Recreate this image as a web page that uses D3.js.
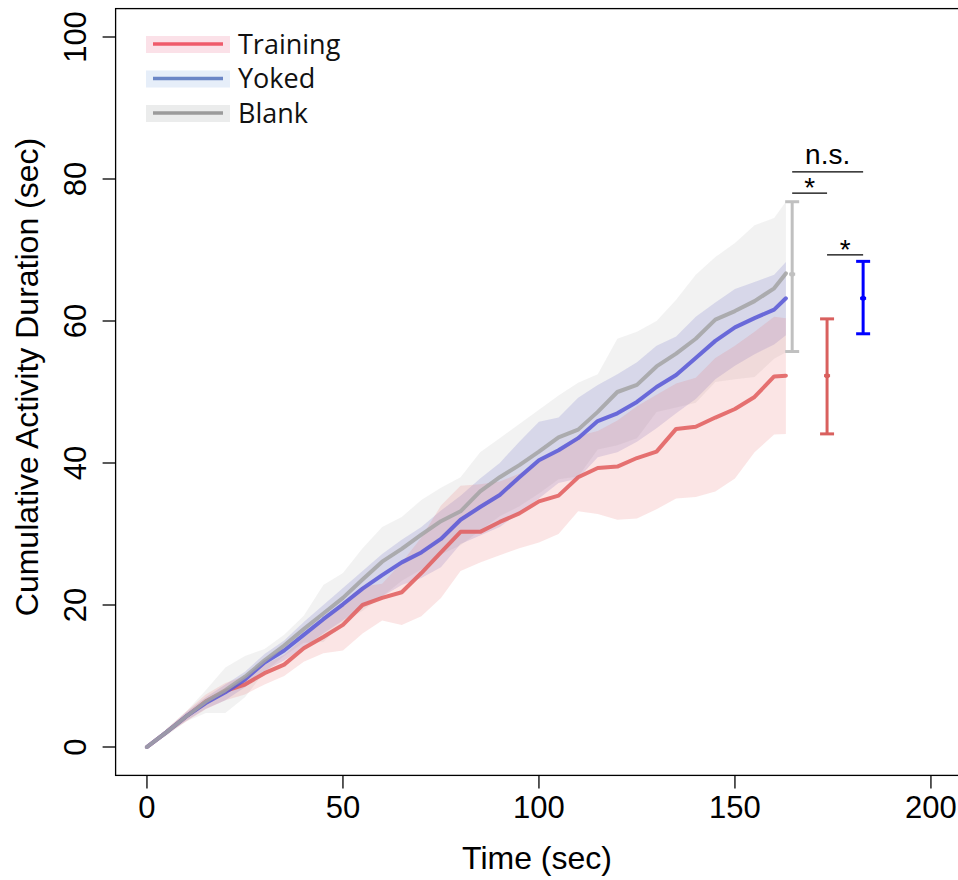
<!DOCTYPE html>
<html>
<head>
  <meta charset="UTF-8">
  <style>
    body {
      margin: 0;
      background-color: #ffffff;
    }
    svg {
      display: block;
    }
    .tick-label, .axis-title {
      font-family: "Liberation Sans", Arial, sans-serif;
      fill: #000;
    }
    .legend-text {
      font-family: "Open Sans", "Noto Sans", sans-serif;
      fill: #111;
    }
  </style>
</head>
<body>

<svg id="chart"></svg>

<script src="https://d3js.org/d3.v7.min.js"></script>

<script>
// time points (sec)
const time = [0, 5, 10, 15, 20, 25, 30, 35, 40, 45, 50, 55, 60, 65, 70, 75, 80, 85, 90, 95, 100,
  105, 110, 115, 120, 125, 130, 135, 140, 145, 150, 155, 160, 163];

// Training (mean, lower, upper of the shaded band)
const trainMean = [0, 2.1, 4.3, 6.4, 7.9, 8.8, 10.4, 11.6, 13.9, 15.5, 17.2, 20.0, 21.0, 21.8, 24.5, 27.4, 30.3, 30.3, 31.7, 32.9, 34.6,
  35.4, 38.0, 39.3, 39.5, 40.7, 41.6, 44.8, 45.1, 46.4, 47.6, 49.3, 52.2, 52.3];
const trainLo = [0, 1.8, 3.6, 5.3, 6.6, 7.4, 8.8, 10.0, 12.0, 13.2, 13.6, 16.0, 17.8, 17.2, 18.4, 21.0, 24.8, 26.0, 27.0, 28.0, 28.8,
  30.0, 33.2, 32.8, 32.0, 32.2, 33.5, 35.0, 35.2, 36.0, 37.8, 41.5, 44.0, 44.1];
const trainHi = [0, 2.5, 5.0, 7.4, 9.0, 10.0, 11.6, 13.0, 15.4, 17.8, 20.4, 22.6, 23.0, 26.0, 29.5, 34.0, 36.8, 37.0, 37.4, 38.5, 40.2,
  41.6, 43.8, 44.5, 46.0, 48.0, 49.6, 51.2, 52.0, 54.8, 56.5, 58.5, 60.6, 60.4];

// Yoked
const yokedMean = [0, 2.1, 4.3, 6.2, 7.7, 9.5, 11.9, 13.6, 15.8, 18.0, 20.1, 22.3, 24.2, 26.0, 27.4, 29.3, 32.0, 33.8, 35.5, 38.0, 40.4,
  41.8, 43.5, 45.9, 47.0, 48.6, 50.7, 52.4, 54.8, 57.2, 59.1, 60.4, 61.6, 63.2];
const yokedLo = [0, 1.8, 3.7, 5.4, 6.6, 8.4, 10.7, 12.2, 14.0, 16.0, 17.8, 19.8, 21.2, 22.8, 23.8, 25.3, 28.6, 29.8, 31.0, 33.0, 35.0,
  37.2, 37.8, 40.8, 41.5, 43.0, 44.9, 47.0, 49.0, 51.8, 53.7, 55.3, 56.7, 58.0];
const yokedHi = [0, 2.4, 4.9, 7.0, 8.8, 10.6, 13.1, 15.0, 17.6, 20.0, 22.4, 24.8, 27.2, 29.2, 31.0, 33.3, 35.4, 37.8, 40.0, 43.0, 45.8,
  46.4, 49.2, 51.0, 52.5, 54.2, 56.5, 57.8, 60.6, 62.6, 64.5, 65.5, 66.5, 68.3];

// Blank
const blankMean = [0, 2.1, 4.3, 6.4, 8.0, 9.9, 12.2, 14.3, 16.6, 18.8, 21.0, 23.6, 26.1, 27.9, 29.9, 31.8, 33.2, 36.0, 38.0, 39.7, 41.6,
  43.6, 44.7, 47.2, 50.0, 51.0, 53.6, 55.4, 57.5, 60.2, 61.4, 62.8, 64.6, 66.7];
const blankLo = [0, 1.6, 3.6, 4.8, 4.8, 7.0, 10.6, 12.8, 14.7, 14.8, 17.5, 19.2, 21.2, 23.4, 25.0, 27.1, 28.4, 30.5, 32.5, 33.9, 35.7,
  37.7, 38.1, 41.9, 42.5, 43.5, 47.2, 47.8, 48.5, 51.4, 51.8, 52.1, 54.7, 55.6];
const blankHi = [0, 2.6, 5.0, 8.0, 11.2, 12.8, 13.8, 15.8, 18.5, 22.8, 24.5, 28.0, 31.0, 32.4, 34.8, 36.5, 38.0, 41.5, 43.5, 45.5, 47.5,
  49.5, 51.3, 52.5, 57.5, 58.5, 60.0, 63.0, 66.5, 69.0, 71.0, 73.5, 74.5, 76.8];

// end-point summary bars (mean +/- error), drawn to the right of the curves
const barGroups = ["Blank", "Training", "Yoked"];
const barX = [164.6, 173.5, 182.7];
const barMean = [66.6, 52.3, 63.2];
const barLo = [55.7, 44.1, 58.2];
const barHi = [76.8, 60.3, 68.4];

// significance brackets
const sigFrom = [164.6, 164.6, 173.5];
const sigTo = [182.7, 173.5, 182.7];
const sigY = [81.0, 78.0, 69.3];
const sigLabel = ["n.s.", "*", "*"];

const legendLabels = ["Training", "Yoked", "Blank"];
const xTicks = [0, 50, 100, 150, 200];
const yTicks = [0, 20, 40, 60, 80, 100];

let width = 958, height = 880;

let svg = d3.select("#chart")
    .attr("width", width)
    .attr("height", height);

let x = d3.scaleLinear().domain([-8, 208]).range([115.6, 962.3]);
let y = d3.scaleLinear().domain([-4, 104]).range([775.4, 8.6]);

let colors = {
  Training: { line: "#e05c5c", band: "rgba(232,110,110,0.18)", bar: "#d9605e", legLine: "#ef5b6b", legBox: "#fbe1e8" },
  Yoked:    { line: "#5656d6", band: "rgba(110,110,200,0.2)", bar: "#0000ff", legLine: "#6b86c6", legBox: "#e6eef9" },
  Blank:    { line: "#a3a3a3", band: "rgba(200,200,200,0.24)", bar: "#c0c0c0", legLine: "#9b9b9b", legBox: "#ebecec" }
};

let series = [
  { name: "Blank", mean: blankMean, lo: blankLo, hi: blankHi },
  { name: "Yoked", mean: yokedMean, lo: yokedLo, hi: yokedHi },
  { name: "Training", mean: trainMean, lo: trainLo, hi: trainHi }
];

// shaded bands
let area = d3.area()
    .x((d, i) => x(time[i]))
    .y0(d => y(d[0]))
    .y1(d => y(d[1]));

series.forEach(s => {
  svg.append("path")
      .datum(time.map((t, i) => [s.lo[i], s.hi[i]]))
      .attr("d", area)
      .attr("fill", colors[s.name].band)
      .attr("stroke", "none");
});

// mean lines
let line = d3.line()
    .x((d, i) => x(time[i]))
    .y(d => y(d));

["Training", "Yoked", "Blank"].forEach(name => {
  let s = series.find(e => e.name === name);
  svg.append("path")
      .datum(s.mean)
      .attr("d", line)
      .attr("fill", "none")
      .attr("stroke", colors[name].line)
      .attr("stroke-width", 4)
      .attr("stroke-linejoin", "round")
      .attr("stroke-linecap", "round")
      .attr("opacity", 0.85);
});

// error bars
barGroups.forEach((g, i) => {
  let c = colors[g].bar;
  let bx = x(barX[i]);
  let eb = svg.append("g");
  eb.append("line")
      .attr("x1", bx).attr("x2", bx)
      .attr("y1", y(barLo[i])).attr("y2", y(barHi[i]))
      .attr("stroke", c).attr("stroke-width", 3);
  [barLo[i], barHi[i]].forEach(v => {
    eb.append("line")
        .attr("x1", bx - 7).attr("x2", bx + 7)
        .attr("y1", y(v)).attr("y2", y(v))
        .attr("stroke", c).attr("stroke-width", 3);
  });
  eb.append("line")
      .attr("x1", bx - 3).attr("x2", bx + 3)
      .attr("y1", y(barMean[i])).attr("y2", y(barMean[i]))
      .attr("stroke", c).attr("stroke-width", 3);
  eb.append("circle")
      .attr("cx", bx).attr("cy", y(barMean[i]))
      .attr("r", 2.5)
      .attr("fill", c);
});

// significance brackets
sigLabel.forEach((lab, i) => {
  svg.append("line")
      .attr("x1", x(sigFrom[i])).attr("x2", x(sigTo[i]))
      .attr("y1", y(sigY[i])).attr("y2", y(sigY[i]))
      .attr("stroke", "#000").attr("stroke-width", 1.2);
  svg.append("text")
      .attr("class", "tick-label")
      .attr("x", (x(sigFrom[i]) + x(sigTo[i])) / 2)
      .attr("y", lab === "*" ? y(sigY[i]) + 4 : y(sigY[i]) - 8)
      .attr("text-anchor", "middle")
      .attr("font-size", 28)
      .text(lab);
});

// frame
svg.append("rect")
    .attr("x", x(-8)).attr("y", y(104))
    .attr("width", x(208) - x(-8))
    .attr("height", y(-4) - y(104))
    .attr("fill", "none")
    .attr("stroke", "#000")
    .attr("stroke-width", 1.3);

// x axis
let xAxis = svg.append("g");
xTicks.forEach(t => {
  xAxis.append("line")
      .attr("x1", x(t)).attr("x2", x(t))
      .attr("y1", y(-4)).attr("y2", y(-4) + 13)
      .attr("stroke", "#000").attr("stroke-width", 1.3);
  xAxis.append("text")
      .attr("class", "tick-label")
      .attr("x", x(t)).attr("y", 818)
      .attr("text-anchor", "middle")
      .attr("font-size", 31)
      .text(t);
});

// y axis
let yAxis = svg.append("g");
yTicks.forEach(t => {
  yAxis.append("line")
      .attr("x1", x(-8) - 13).attr("x2", x(-8))
      .attr("y1", y(t)).attr("y2", y(t))
      .attr("stroke", "#000").attr("stroke-width", 1.3);
  yAxis.append("text")
      .attr("class", "tick-label")
      .attr("transform", "translate(86," + y(t) + ") rotate(-90)")
      .attr("text-anchor", "middle")
      .attr("font-size", 31)
      .text(t);
});

svg.append("text")
    .attr("class", "axis-title")
    .attr("x", 537).attr("y", 869)
    .attr("text-anchor", "middle")
    .attr("font-size", 32)
    .text("Time (sec)");

svg.append("text")
    .attr("class", "axis-title")
    .attr("transform", "translate(38,377) rotate(-90)")
    .attr("text-anchor", "middle")
    .attr("font-size", 32)
    .text("Cumulative Activity Duration (sec)");

// legend
let legend = svg.append("g");
legendLabels.forEach((lab, i) => {
  let ly = 44 + i * 34.5;
  legend.append("rect")
      .attr("x", 146).attr("y", ly - 8)
      .attr("width", 84).attr("height", 17)
      .attr("fill", colors[lab].legBox);
  legend.append("line")
      .attr("x1", 153).attr("x2", 223)
      .attr("y1", ly).attr("y2", ly)
      .attr("stroke", colors[lab].legLine)
      .attr("stroke-width", 3.5);
  legend.append("text")
      .attr("class", "legend-text")
      .attr("x", 238).attr("y", ly + 9.5)
      .attr("font-size", 27)
      .text(lab);
});
</script>

</body>
</html>
